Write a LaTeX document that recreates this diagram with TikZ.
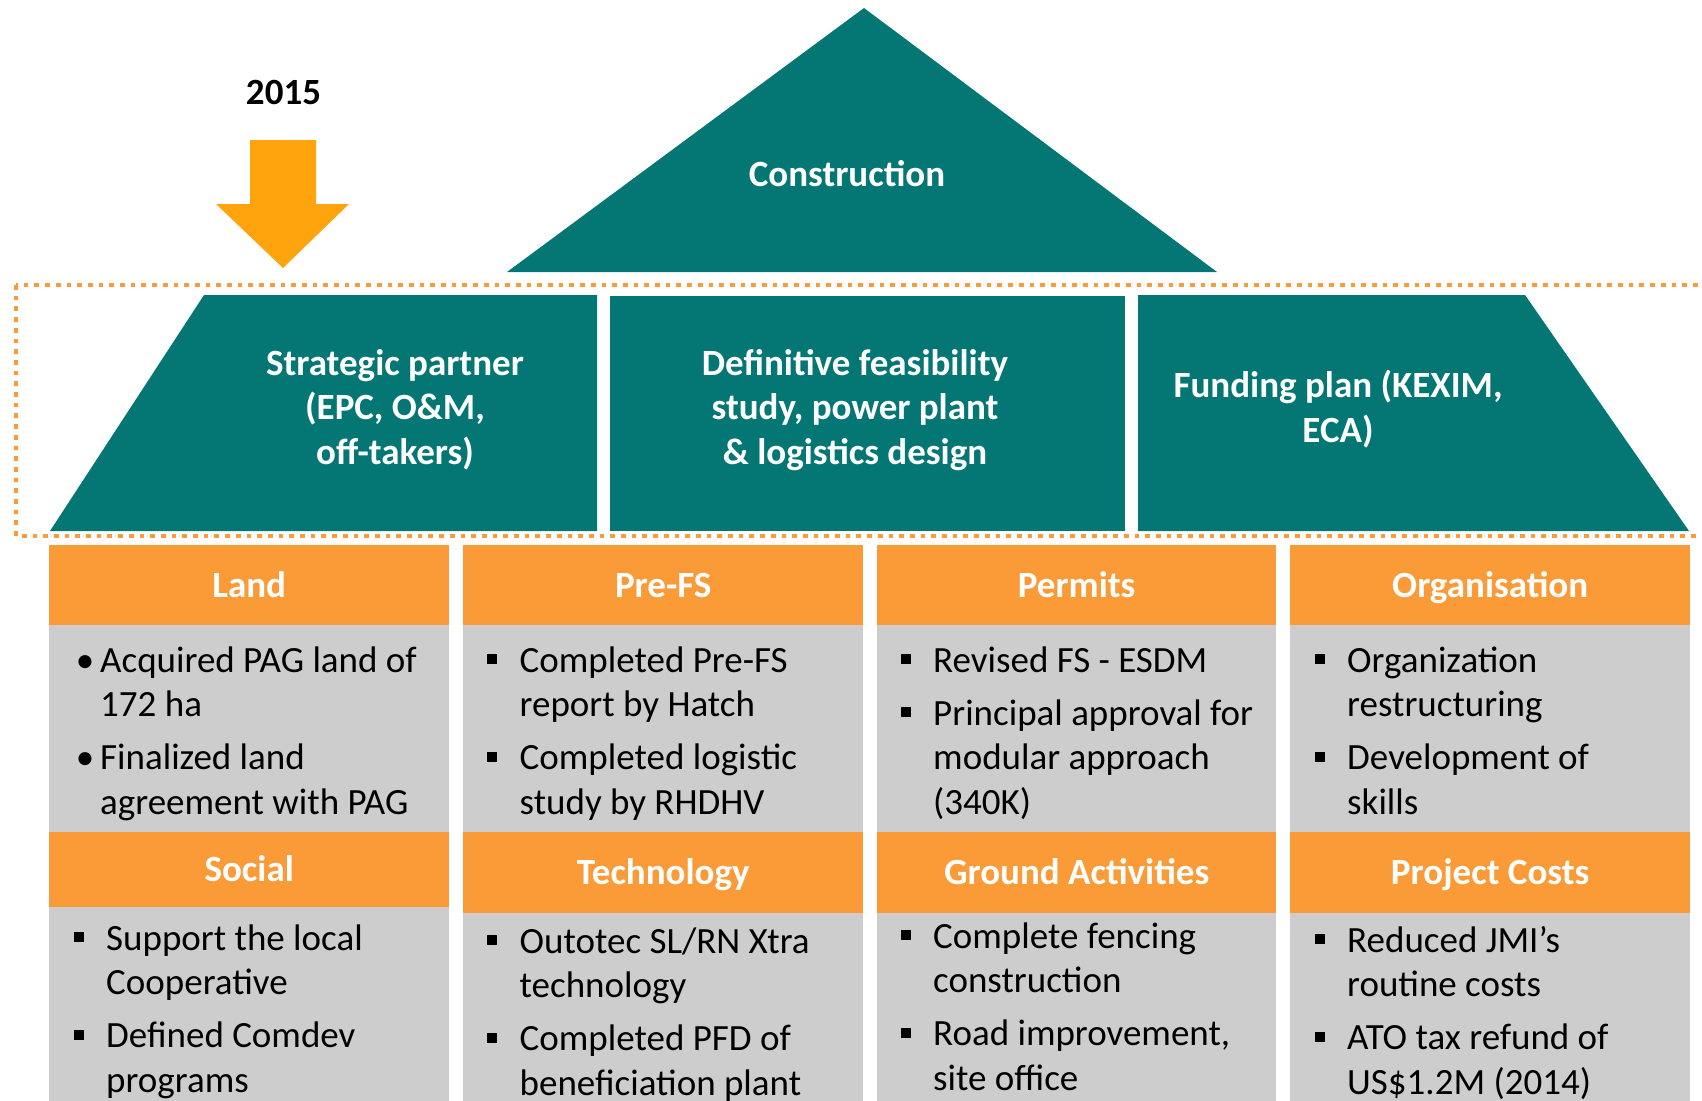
\documentclass[tikz,border=0pt]{standalone}
\usepackage{fontspec}
\setmainfont{Carlito}
\definecolor{roofteal}{RGB}{4,119,116}
\definecolor{headorange}{RGB}{250,155,55}
\definecolor{arroworange}{RGB}{255,164,13}
\definecolor{cellgray}{RGB}{205,205,205}
\newcommand{\sqb}{\leavevmode\llap{\rule[8pt]{10pt}{10pt}\hspace{22.5pt}}}
\newcommand{\rdb}{\leavevmode\llap{\textbullet\hspace{6pt}}}
\tikzset{
  hdtop/.style={fill=headorange, text=white, font=\fontsize{37}{44.5}\selectfont\bfseries,
    minimum width=400pt, inner sep=0pt, text height=52.5pt, text depth=28pt, anchor=north west},
  hdlow/.style={hdtop, text height=52pt, text depth=29pt},
  celltext/.style={anchor=base west, align=left, inner sep=0pt, font=\fontsize{37}{44.5}\selectfont},
  rooftext/.style={anchor=base, align=center, inner sep=0pt, text=white,
    font=\fontsize{37}{44.5}\selectfont\bfseries}
}
\begin{document}
\begin{tikzpicture}[x=1pt, y=-1pt]
  \path[use as bounding box] (0,0) rectangle (1702,1100);
  \clip (0,0) rectangle (1702,1100);

  \node[anchor=base, inner sep=0pt, font=\fontsize{37}{44.5}\selectfont\bfseries] (year) at (283.5,104) {2015};
  \fill[arroworange] (250,140) -- (316,140) -- (316,204) -- (349,204) -- (283,268) -- (216,204) -- (250,204) -- cycle;

  \fill[roofteal] (507,272) -- (864,8) -- (1217,272) -- cycle;
  \node[rooftext] (constr) at (847,186) {Construction};

  \fill[roofteal] (204,295) -- (597,295) -- (597,531) -- (50,531) -- cycle;
  \fill[roofteal] (610,296) rectangle (1125,531);
  \fill[roofteal] (1138,295) -- (1525,295) -- (1689,531) -- (1138,531) -- cycle;
  \node[rooftext] (partner) at (395,464) {Strategic partner\\(EPC, O\&M,\\off-takers)};
  \node[rooftext] (dfs) at (855,464) {Definitive feasibility\\study, power plant\\\& logistics design};
  \node[rooftext] (funding) at (1338,442) {Funding plan (KEXIM,\\ECA)};

  \draw[headorange, line width=4.7pt, dash pattern=on 4.7pt off 6pt] (16,285) rectangle (1740,536);

  \fill[cellgray] (49,625) rectangle (449,832);
  \fill[cellgray] (463,625) rectangle (863,832);
  \fill[cellgray] (877,625) rectangle (1276,832);
  \fill[cellgray] (1290,625) rectangle (1690,832);
  \fill[cellgray] (49,907) rectangle (449,1110);
  \fill[cellgray] (463,913) rectangle (863,1110);
  \fill[cellgray] (877,913) rectangle (1276,1110);
  \fill[cellgray] (1290,913) rectangle (1690,1110);

  \node[hdtop] (land) at (49,544.5) {Land};
  \node[hdtop] (prefs) at (463,544.5) {Pre-FS};
  \node[hdtop, minimum width=399pt] (permits) at (877,544.5) {Permits};
  \node[hdtop] (organ) at (1290,544.5) {Organisation};
  \node[hdlow, text height=49pt, text depth=26pt] (social) at (49,832) {Social};
  \node[hdlow] (techno) at (463,832) {Technology};
  \node[hdlow, minimum width=399pt] (ground) at (877,832) {Ground Activities};
  \node[hdlow] (costs) at (1290,832) {Project Costs};

  \node[celltext] (landtxt) at (100,814) {\rdb Acquired PAG land of\\172 ha\\[8.5pt]\rdb Finalized land\\agreement with PAG};
  \node[celltext] (prefstxt) at (519.5,814) {\sqb Completed Pre-FS\\report by Hatch\\[8.5pt]\sqb Completed logistic\\study by RHDHV};
  \node[celltext] (permitstxt) at (933,814) {\sqb Revised FS - ESDM\\[8.5pt]\sqb Principal approval for\\modular approach\\(340K)};
  \node[celltext] (organtxt) at (1347,814) {\sqb Organization\\restructuring\\[8.5pt]\sqb Development of\\skills};
  \node[celltext] (socialtxt) at (106,1092) {\sqb Support the local\\Cooperative\\[8.5pt]\sqb Defined Comdev\\programs};
  \node[celltext] (technotxt) at (519.5,1095) {\sqb Outotec SL/RN Xtra\\technology\\[8.5pt]\sqb Completed PFD of\\beneficiation plant};
  \node[celltext] (groundtxt) at (933,1090) {\sqb Complete fencing\\construction\\[8.5pt]\sqb Road improvement,\\site office};
  \node[celltext] (coststxt) at (1347,1094) {\sqb Reduced JMI’s\\routine costs\\[8.5pt]\sqb ATO tax refund of\\US\$1.2M (2014)};
\end{tikzpicture}
\end{document}
